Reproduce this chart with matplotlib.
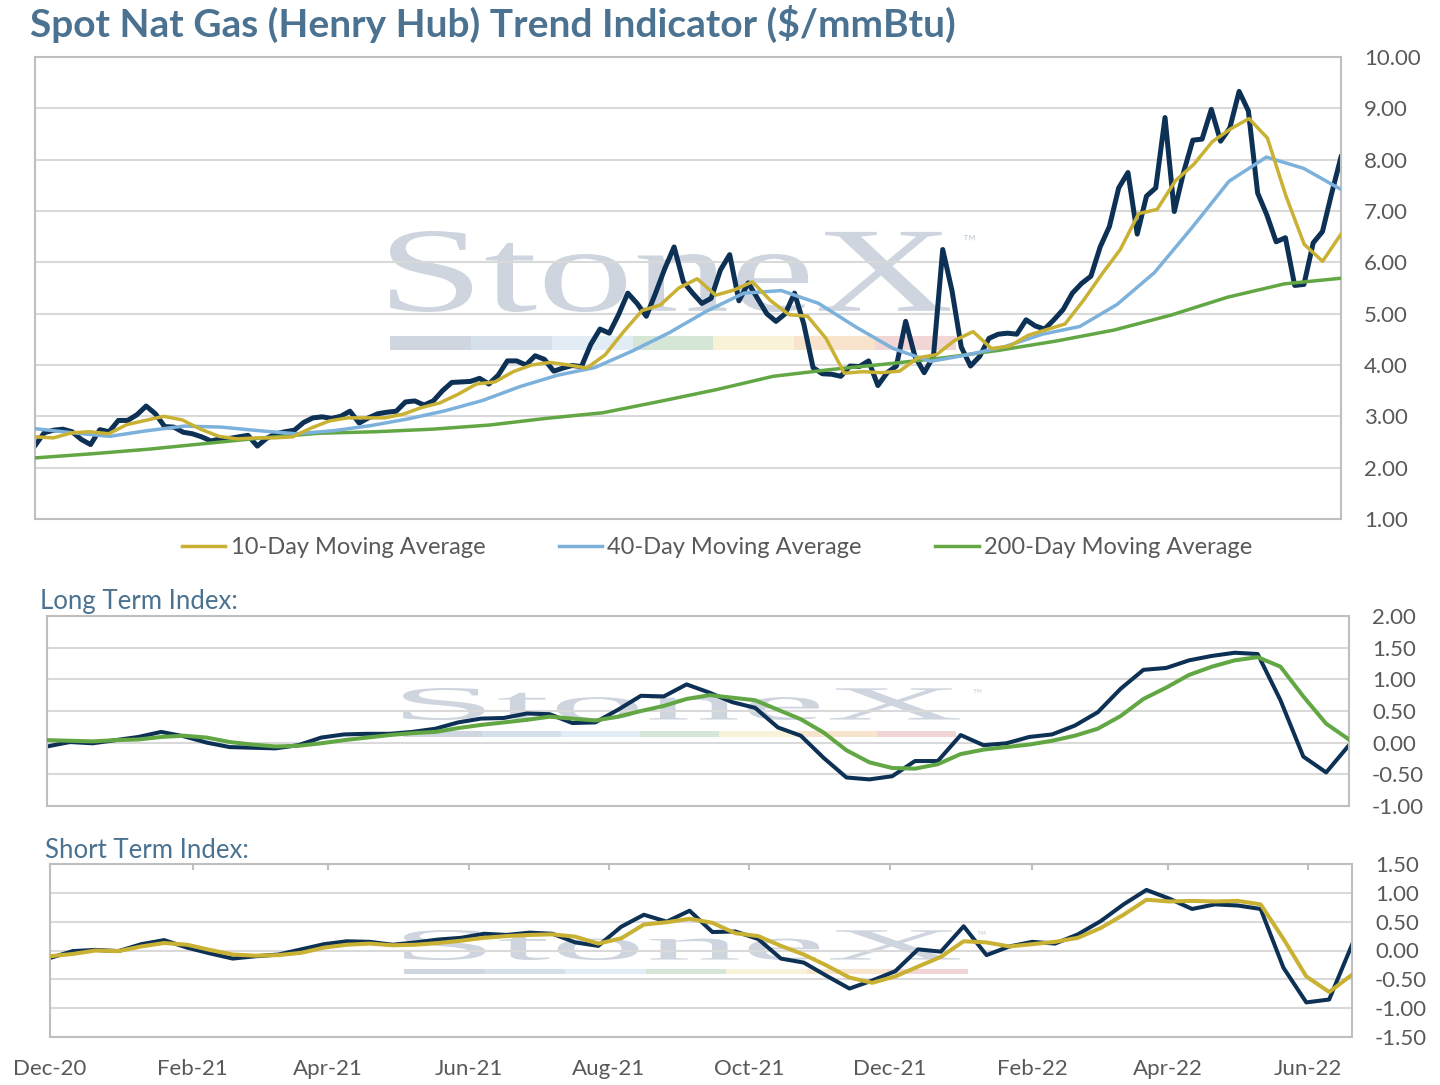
import matplotlib
matplotlib.use('Agg')
import matplotlib.pyplot as plt
import matplotlib.dates as mdates
from matplotlib.ticker import FuncFormatter
from matplotlib.lines import Line2D
from matplotlib.textpath import TextPath
from matplotlib.patches import PathPatch, Rectangle
from matplotlib.font_manager import FontProperties
from matplotlib.transforms import Affine2D, IdentityTransform
import numpy as np
import pandas as pd

START = '2020-12-01'
END = '2022-06-20'

# Spot price ($/mmBtu), evenly spaced samples from START to END
price = [2.43, 2.68, 2.73, 2.75, 2.70, 2.55, 2.45, 2.74, 2.70, 2.92,
         2.92, 3.03, 3.20, 3.05, 2.80, 2.79, 2.69, 2.66, 2.60, 2.52,
         2.56, 2.57, 2.60, 2.63, 2.42, 2.57, 2.66, 2.70, 2.73, 2.88,
         2.97, 2.99, 2.96, 3.00, 3.10, 2.87, 2.97, 3.05, 3.08, 3.10,
         3.28, 3.30, 3.22, 3.30,
         3.50, 3.66, 3.67, 3.68, 3.74, 3.63, 3.80, 4.08, 4.08, 4.00,
         4.18, 4.11, 3.88, 3.94, 3.99, 3.97, 4.40, 4.70, 4.62, 4.98,
         5.40, 5.20, 4.95, 5.40, 5.88, 6.30, 5.62, 5.40, 5.20, 5.30,
         5.85, 6.15, 5.25, 5.60, 5.30, 5.00, 4.85, 5.00, 5.40, 4.80,
         3.95,
         3.83, 3.82, 3.78, 3.98, 3.97, 4.08, 3.60, 3.85, 3.98, 4.85,
         4.17, 3.85, 4.17, 6.25, 5.45, 4.35, 3.98, 4.17, 4.52, 4.60,
         4.62, 4.60, 4.88, 4.76, 4.70, 4.88, 5.08, 5.40, 5.59, 5.73,
         6.30,
         6.70, 7.45, 7.75, 6.55, 7.29, 7.45, 8.82, 6.99, 7.75, 8.38,
         8.40, 8.98, 8.36, 8.62, 9.33, 8.95, 7.35, 6.92, 6.40, 6.48,
         5.55, 5.57, 6.38, 6.60, 7.35, 8.05]

ma10 = [2.60, 2.58, 2.68, 2.70, 2.66, 2.84, 2.92, 3.00, 2.93, 2.75,
        2.61, 2.56, 2.58, 2.58, 2.60, 2.77, 2.91, 2.97, 2.97, 2.97,
        3.04, 3.17,
        3.26, 3.43, 3.63, 3.67, 3.87, 4.00, 4.05, 4.00, 3.94, 4.20,
        4.65, 5.06, 5.17, 5.50, 5.68, 5.36, 5.46, 5.62, 5.25, 4.98,
        4.95,
        4.52, 3.84, 3.87, 3.85, 3.88, 4.14, 4.20, 4.48, 4.65, 4.32,
        4.37, 4.58, 4.69, 4.80, 5.26,
        5.77, 6.25, 6.95, 7.03, 7.59, 7.91, 8.35, 8.60, 8.80, 8.42,
        7.30, 6.35, 6.02, 6.55]

ma40 = [2.76, 2.68, 2.61, 2.72, 2.81, 2.79, 2.72, 2.66, 2.72, 2.82,
        2.95, 3.11, 3.31, 3.58, 3.80, 3.95, 4.27, 4.63, 5.05, 5.40,
        5.45, 5.20, 4.74, 4.32, 4.07, 4.20, 4.36, 4.60, 4.75, 5.18,
        5.80, 6.67, 7.58, 8.05, 7.83, 7.42]

ma200 = [2.19, 2.27, 2.36, 2.47, 2.58, 2.67, 2.70, 2.75, 2.83, 2.96,
         3.07, 3.29, 3.52, 3.78, 3.91, 4.02, 4.14, 4.29, 4.47, 4.68,
         4.97, 5.32, 5.58, 5.69]

long_index = [-0.06, 0.01, -0.01, 0.04, 0.09, 0.17, 0.10, 0.00, -0.07, -0.08,
              -0.09, -0.04, 0.08, 0.13, 0.14, 0.14, 0.17, 0.22, 0.32, 0.38,
              0.39, 0.46, 0.45, 0.31, 0.32, 0.52, 0.74, 0.73, 0.92, 0.79,
              0.64, 0.55, 0.24, 0.11, -0.24, -0.55, -0.58, -0.53, -0.29, -0.29,
              0.12, -0.04, -0.01, 0.09, 0.13, 0.27, 0.48, 0.85, 1.15, 1.18,
              1.30, 1.37, 1.42, 1.40, 0.67, -0.22, -0.47, -0.04]
long_signal = [0.04, 0.03, 0.02, 0.04, 0.05, 0.09, 0.11, 0.08, 0.01, -0.03,
               -0.06, -0.05, -0.01, 0.04, 0.08, 0.12, 0.15, 0.17, 0.23, 0.28,
               0.32, 0.36, 0.41, 0.38, 0.35, 0.41, 0.50, 0.58, 0.69, 0.75,
               0.71, 0.67, 0.52, 0.37, 0.16, -0.12, -0.31, -0.40, -0.41, -0.34,
               -0.18, -0.11, -0.07, -0.03, 0.03, 0.11, 0.22, 0.42, 0.69, 0.87,
               1.07, 1.20, 1.30, 1.35, 1.20, 0.73, 0.30, 0.05]

short_index = [-0.13, -0.01, 0.01, -0.01, 0.11, 0.18, 0.05, -0.05, -0.14, -0.10,
               -0.07, 0.02, 0.11, 0.16, 0.15, 0.10, 0.14, 0.19, 0.22, 0.29,
               0.27, 0.31, 0.29, 0.14, 0.08, 0.41, 0.62, 0.50, 0.69, 0.32,
               0.33, 0.20, -0.14, -0.21, -0.44, -0.66, -0.52, -0.36, 0.02, -0.02,
               0.42, -0.08, 0.07, 0.15, 0.12, 0.28, 0.51, 0.80, 1.05, 0.90,
               0.72, 0.80, 0.78, 0.72, -0.30, -0.90, -0.85, 0.10]
short_signal = [-0.10, -0.06, 0.00, -0.01, 0.07, 0.13, 0.10, 0.01, -0.07, -0.09,
                -0.08, -0.04, 0.05, 0.10, 0.12, 0.09, 0.10, 0.13, 0.17, 0.22,
                0.25, 0.27, 0.28, 0.24, 0.12, 0.21, 0.45, 0.49, 0.55, 0.48,
                0.30, 0.25, 0.08, -0.07, -0.26, -0.47, -0.56, -0.45, -0.28, -0.11,
                0.16, 0.14, 0.07, 0.11, 0.15, 0.22, 0.39, 0.62, 0.88, 0.85,
                0.86, 0.85, 0.86, 0.80, 0.20, -0.45, -0.72, -0.42]

legend_labels = ['10-Day Moving Average', '40-Day Moving Average', '200-Day Moving Average']
title = 'Spot Nat Gas (Henry Hub) Trend Indicator ($/mmBtu)'

NAVY = '#0d3055'
YELLOW = '#c8b133'
BLUE = '#7cb1db'
GREEN = '#62a744'
TITLE_C = '#4b7391'
TXT = '#595959'
GRID = '#d9d9d9'
BORDER = '#bfbfbf'
FONT = 'Lato'

plt.rcParams['font.family'] = [FONT, 'DejaVu Sans']


def dates(n):
    return pd.date_range(START, END, periods=n)


W, H = 1440, 1085
fig = plt.figure(figsize=(W / 100, H / 100), dpi=100)
fig.patch.set_facecolor('white')


def px_axes(l, t, r, b):
    return fig.add_axes([l / W, 1 - b / H, (r - l) / W, (b - t) / H])


def style(ax, lo, hi, step):
    ax.set_facecolor('none')
    ax.set_xlim(pd.Timestamp(START), pd.Timestamp(END))
    ax.set_ylim(lo, hi)
    ax.set_yticks(np.arange(lo, hi + step / 2, step))
    ax.yaxis.tick_right()
    ax.yaxis.set_major_formatter(FuncFormatter(lambda v, p: f'{v:.2f}'))
    ax.tick_params(axis='y', length=0, pad=16.5, labelsize=16, labelcolor=TXT)
    ax.grid(axis='y', color=GRID, lw=1.5)
    ax.grid(axis='x', visible=False)
    ax.set_axisbelow(True)
    for s in ax.spines.values():
        s.set_color(BORDER)
        s.set_linewidth(1.5)


ax1 = px_axes(35, 57, 1341, 519)
ax2 = px_axes(47, 616, 1349, 806)
ax3 = px_axes(50, 864, 1352, 1037)

style(ax1, 1, 10, 1)
style(ax2, -1, 2, 0.5)
style(ax3, -1.5, 1.5, 0.5)

for ax in (ax1, ax2):
    ax.tick_params(axis='x', bottom=False, labelbottom=False)

ax3.xaxis.set_major_locator(mdates.MonthLocator(bymonth=[2, 4, 6, 8, 10, 12]))
ax3.xaxis.set_major_formatter(mdates.DateFormatter('%b-%y'))
ax3.tick_params(axis='x', top=True, bottom=False, direction='in', length=4.5,
                width=1.5, color=BORDER, labelbottom=True, pad=16,
                labelsize=16, labelcolor=TXT)

# top panel lines
ax1.plot(dates(len(price)), price, color=NAVY, lw=3.6, zorder=2, solid_joinstyle='round')
ax1.plot(dates(len(ma200)), ma200, color=GREEN, lw=2.5, zorder=3)
ax1.plot(dates(len(ma40)), ma40, color=BLUE, lw=2.5, zorder=4)
ax1.plot(dates(len(ma10)), ma10, color=YELLOW, lw=2.5, zorder=5)

ax2.plot(dates(len(long_index)), long_index, color=NAVY, lw=2.9, zorder=2)
ax2.plot(dates(len(long_signal)), long_signal, color=GREEN, lw=2.9, zorder=3)

ax3.plot(dates(len(short_index)), short_index, color=NAVY, lw=2.9, zorder=2)
ax3.plot(dates(len(short_signal)), short_signal, color=YELLOW, lw=2.9, zorder=3)

# legend
handles = [Line2D([], [], color=c, lw=2.5) for c in (YELLOW, BLUE, GREEN)]
fig.legend(handles, legend_labels, loc='center', bbox_to_anchor=(717 / W, 1 - 548 / H),
           ncol=3, frameon=False, fontsize=17, handlelength=1.85, handletextpad=0.22,
           columnspacing=3.1, labelcolor=TXT)

# titles
fig.text(30 / W, 1 - 24 / H, title, fontsize=28, fontweight='bold', color=TITLE_C,
         va='center', ha='left', parse_math=False)
fig.text(40 / W, 1 - 601 / H, 'Long Term Index:', fontsize=18.5, color=TITLE_C,
         va='center', ha='left')
fig.text(45 / W, 1 - 850 / H, 'Short Term Index:', fontsize=18.5, color=TITLE_C,
         va='center', ha='left')

# watermark
WM_C = '#cfd5de'
BAR_C = ['#cfd6df', '#d6e0ea', '#e1ecf5', '#d5e5d6', '#f7f2d8', '#f8e4cc', '#f2d5d5']
wm_font = FontProperties(family='Liberation Serif')


def watermark(x0, x1, ytop, ybot, bar_top, bar_bot, bar_x1, tm_x, tm_y, tm_size):
    tp = TextPath((0, 0), 'StoneX', prop=wm_font, size=100)
    bb = tp.get_extents()
    sx = (x1 - x0) / bb.width
    sy = (ybot - ytop) / bb.height
    tr = Affine2D().translate(-bb.x0, -bb.y0).scale(sx, sy).translate(x0, H - ybot)
    patch = PathPatch(tr.transform_path(tp), facecolor=WM_C, edgecolor='none',
                      transform=IdentityTransform(), zorder=-5)
    fig.add_artist(patch)
    w = (bar_x1 - x0) / len(BAR_C)
    for i, c in enumerate(BAR_C):
        r = Rectangle((x0 + i * w, H - bar_bot), w, bar_bot - bar_top, facecolor=c,
                      edgecolor='none', transform=IdentityTransform(), zorder=-5)
        fig.add_artist(r)
    fig.text(tm_x / W, 1 - tm_y / H, '™', fontsize=tm_size, color=WM_C,
             va='center', ha='left', zorder=-5)


watermark(390, 950, 231, 312, 336, 350, 956, 962, 243, 13)
watermark(403, 960, 688, 720, 731, 737, 956, 972, 693, 9)
watermark(404, 960, 930, 960, 969, 974, 968, 976, 935, 9)

fig.savefig('out.png', dpi=100, facecolor='white')
